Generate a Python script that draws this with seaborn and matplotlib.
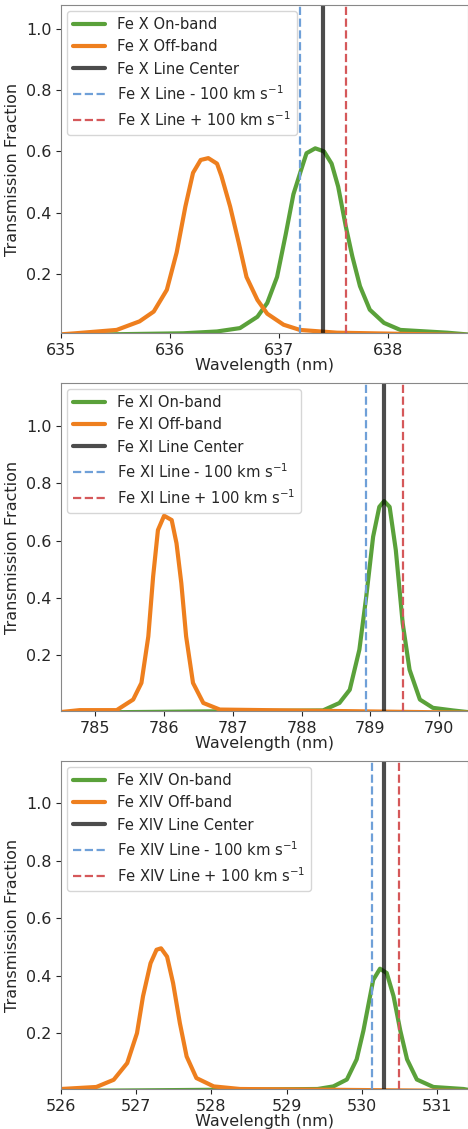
import numpy as np
import pandas as pd
import matplotlib
matplotlib.use("Agg")
import matplotlib.pyplot as plt
import seaborn as sns

# Fe X
fe10_on_wl = [634.9, 636.12, 636.43, 636.64, 636.80, 636.89, 636.98, 637.06, 637.13, 637.21, 637.25, 637.33,
              637.41, 637.48, 637.54, 637.61, 637.67, 637.74, 637.83, 637.96, 638.11, 638.54, 638.8]
fe10_on_tr = [0.0, 0.006, 0.012, 0.023, 0.06, 0.105, 0.19, 0.33, 0.46, 0.55, 0.594, 0.61,
              0.60, 0.56, 0.485, 0.355, 0.257, 0.16, 0.083, 0.04, 0.017, 0.008, 0.0]
fe10_off_wl = [634.9, 635.13, 635.51, 635.72, 635.85, 635.97, 636.06, 636.14, 636.21, 636.28, 636.35, 636.43,
               636.47, 636.55, 636.63, 636.70, 636.80, 636.89, 637.04, 637.19, 637.53, 638.8]
fe10_off_tr = [0.0, 0.006, 0.017, 0.045, 0.077, 0.148, 0.27, 0.42, 0.53, 0.572, 0.578, 0.56,
               0.52, 0.42, 0.30, 0.19, 0.115, 0.07, 0.034, 0.017, 0.008, 0.0]

# Fe XI
fe11_on_wl = [784.4, 788.31, 788.55, 788.70, 788.84, 788.94, 789.04, 789.13, 789.20, 789.28, 789.37, 789.47,
              789.57, 789.72, 789.91, 790.20, 790.5]
fe11_on_tr = [0.0, 0.008, 0.034, 0.08, 0.22, 0.405, 0.614, 0.718, 0.738, 0.718, 0.567, 0.312,
              0.15, 0.046, 0.017, 0.008, 0.0]
fe11_off_wl = [784.4, 784.77, 785.31, 785.55, 785.67, 785.77, 785.84, 785.91, 786.0, 786.11, 786.18, 786.25,
               786.32, 786.42, 786.57, 786.81, 790.5]
fe11_off_tr = [0.0, 0.009, 0.009, 0.046, 0.104, 0.266, 0.475, 0.637, 0.687, 0.672, 0.591, 0.452,
               0.266, 0.104, 0.034, 0.011, 0.0]

# Fe XIV
fe14_on_wl = [525.9, 529.41, 529.62, 529.80, 529.93, 530.02, 530.09, 530.15, 530.24, 530.33, 530.42, 530.51,
              530.60, 530.73, 530.95, 531.35, 531.5]
fe14_on_tr = [0.0, 0.007, 0.016, 0.04, 0.11, 0.21, 0.305, 0.386, 0.425, 0.41, 0.33, 0.21,
              0.11, 0.04, 0.014, 0.007, 0.0]
fe14_off_wl = [525.9, 526.0, 526.47, 526.70, 526.88, 527.01, 527.09, 527.19, 527.27, 527.33, 527.41, 527.49,
               527.58, 527.67, 527.80, 528.03, 528.38, 531.5]
fe14_off_tr = [0.0, 0.007, 0.014, 0.039, 0.097, 0.201, 0.329, 0.444, 0.491, 0.496, 0.467, 0.375,
               0.236, 0.12, 0.045, 0.016, 0.007, 0.0]

ions = ["Fe X", "Fe XI", "Fe XIV"]
line_centers = [637.4, 789.2, 530.3]
line_minus = [637.19, 788.94, 530.13]
line_plus = [637.61, 789.47, 530.49]
xlims = [(635.0, 638.73), (784.5, 790.42), (526.0, 531.41)]
ylims = [(0.007, 1.078), (0.006, 1.15), (0.007, 1.147)]
xticks = [[635, 636, 637, 638], [785, 786, 787, 788, 789, 790], [526, 527, 528, 529, 530, 531]]

on_data = [(fe10_on_wl, fe10_on_tr), (fe11_on_wl, fe11_on_tr), (fe14_on_wl, fe14_on_tr)]
off_data = [(fe10_off_wl, fe10_off_tr), (fe11_off_wl, fe11_off_tr), (fe14_off_wl, fe14_off_tr)]

sns.set_style("ticks")
plt.rcParams['font.family'] = ['DejaVu Sans']

fig = plt.figure(figsize=(4.68, 11.29), dpi=100)
# axes rectangles in pixels: left, top, bottom
rects = [(61, 5, 333), (61, 383, 711), (61, 761, 1089)]
W, H = 468, 1129

for i in range(3):
    l, t, b = rects[i]
    ax = fig.add_axes([l / W, 1 - b / H, (W - l) / W, (b - t) / H])
    on = pd.DataFrame({"wl": on_data[i][0], "tr": on_data[i][1]})
    off = pd.DataFrame({"wl": off_data[i][0], "tr": off_data[i][1]})
    sns.lineplot(data=on, x="wl", y="tr", ax=ax, color="#5aa13a", lw=3, label=f"{ions[i]} On-band")
    sns.lineplot(data=off, x="wl", y="tr", ax=ax, color="#ee7f1e", lw=3, label=f"{ions[i]} Off-band")
    ax.axvline(line_centers[i], color="black", alpha=0.7, lw=3, label=f"{ions[i]} Line Center")
    ax.axvline(line_minus[i], color="#6fa0d8", lw=1.6, ls="--", label=f"{ions[i]} Line - 100 km s$^{{-1}}$")
    ax.axvline(line_plus[i], color="#d5585a", lw=1.6, ls="--", label=f"{ions[i]} Line + 100 km s$^{{-1}}$")
    ax.set_xlim(*xlims[i])
    ax.set_ylim(*ylims[i])
    ax.set_xticks(xticks[i])
    ax.set_yticks([0.2, 0.4, 0.6, 0.8, 1.0])
    ax.tick_params(labelsize=11.5)
    ax.set_xlabel("Wavelength (nm)", fontsize=11.5, labelpad=0)
    ax.set_ylabel("Transmission Fraction", fontsize=11.5)
    ax.legend(loc="upper left", fontsize=10.6, handlelength=2.2, borderaxespad=0.4)
    for s in ax.spines.values():
        s.set_color("#888888")

fig.savefig("out.png", dpi=100)
